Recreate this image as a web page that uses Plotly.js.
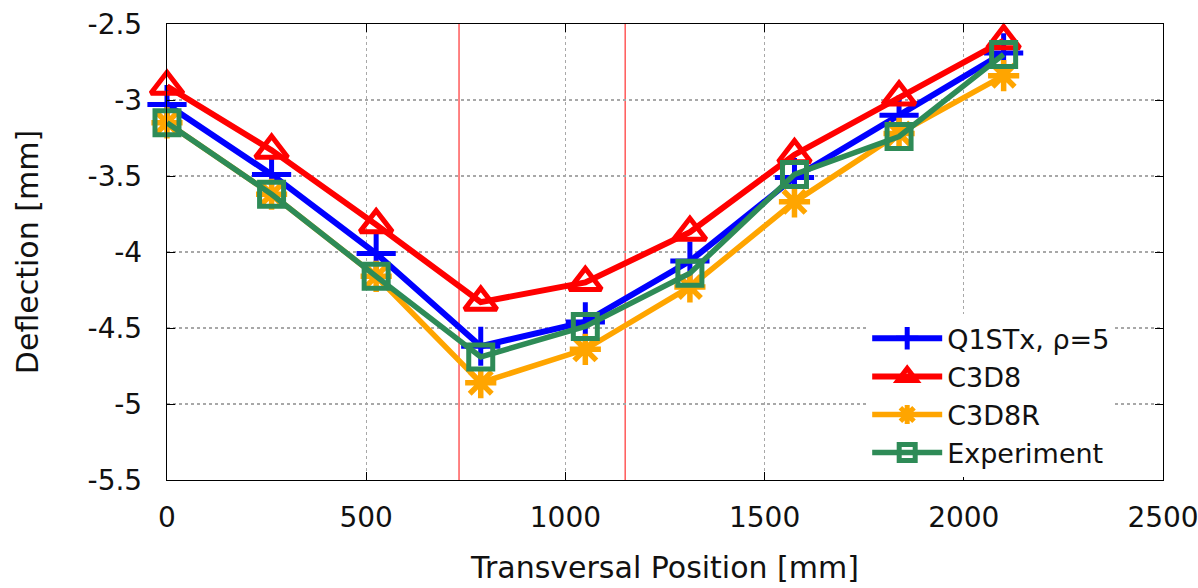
<!DOCTYPE html>
<html>
<head>
<meta charset="utf-8">
<script src="https://cdn.plot.ly/plotly-3.0.1.min.js"></script>
<style>html,body{margin:0;padding:0;background:#fff;}#chart{width:1198px;height:588px;}</style>
</head>
<body>
<div id="chart"></div>
<script>
// Data
const positions = [0, 262.5, 525, 787.5, 1050, 1312.5, 1575, 1837.5, 2100];
const q1stx     = [-3.03, -3.49, -4.01, -4.62, -4.46, -4.06, -3.51, -3.10, -2.69];
const c3d8      = [-2.91, -3.33, -3.82, -4.33, -4.20, -3.87, -3.36, -2.98, -2.61];
const c3d8r     = [-3.15, -3.62, -4.16, -4.86, -4.64, -4.23, -3.67, -3.22, -2.84];
const experiment= [-3.15, -3.62, -4.16, -4.69, -4.49, -4.14, -3.49, -3.24, -2.70];
const seriesNames = ['Q1STx, \u03c1=5', 'C3D8', 'C3D8R', 'Experiment'];
const markerLines = [733, 1150];
const xTicks = [0, 500, 1000, 1500, 2000, 2500];
const yTicks = [-5.5, -5, -4.5, -4, -3.5, -3, -2.5];
const yTickText = ['-5.5', '-5', '-4.5', '-4', '-3.5', '-3', '-2.5'];

const FONT = 'DejaVu Sans, sans-serif';

function mk(y, name, color, symbol, size, lw, mlw) {
  return {
    x: positions, y: y, name: name, type: 'scatter', mode: 'lines+markers',
    line: {color: color, width: lw},
    marker: {symbol: symbol, size: size, color: color, line: {color: color, width: mlw}},
    cliponaxis: false
  };
}

const traces = [
  mk(q1stx, seriesNames[0], '#0000ff', 'cross-thin-open', 28, 6, 5),
  mk(c3d8, seriesNames[1], '#ff0000', 'triangle-up-open', 28, 6, 5),
  mk(c3d8r, seriesNames[2], '#ffa500', 'asterisk-open', 26, 5.5, 5.5),
  mk(experiment, seriesNames[3], '#2e8b57', 'square-open', 24, 5.5, 5)
];

const shapes = markerLines.map(v => ({
  type: 'line', xref: 'x', yref: 'paper', x0: v, x1: v, y0: 0, y1: 1,
  line: {color: '#ff3030', width: 1.2}, layer: 'below'
}));

const axisCommon = {
  showline: true, linecolor: '#000', linewidth: 1.2, mirror: 'ticks',
  ticks: 'inside', ticklen: 8, tickcolor: '#000', tickwidth: 1,
  showgrid: true, gridcolor: '#a8a8a8', griddash: 'dot', gridwidth: 1.2,
  zeroline: false, tickfont: {family: FONT, size: 28, color: '#111'},
  ticklabeloverflow: 'allow'
};

const layout = {
  width: 1198, height: 588,
  margin: {l: 167, r: 35, t: 24, b: 108},
  paper_bgcolor: '#fff', plot_bgcolor: '#fff',
  showlegend: true,
  legend: {
    x: 0.952, xanchor: 'right', y: 0.006, yanchor: 'bottom',
    bgcolor: '#fff', borderwidth: 0,
    font: {family: FONT, size: 27, color: '#111'},
    itemwidth: 70, tracegroupgap: 0
  },
  xaxis: Object.assign({}, axisCommon, {
    range: [0, 2500], tickvals: xTicks, ticktext: xTicks.map(String),
    ticklabelstandoff: 12,
    title: {text: 'Transversal Position [mm]', font: {family: FONT, size: 30, color: '#111'}, standoff: 24}
  }),
  yaxis: Object.assign({}, axisCommon, {
    range: [-5.5, -2.5], tickvals: yTicks, ticktext: yTickText,
    ticklabelstandoff: 18,
    title: {text: 'Deflection [mm]', font: {family: FONT, size: 30, color: '#111'}, standoff: 40}
  }),
  shapes: shapes
};

Plotly.newPlot('chart', traces, layout, {displayModeBar: false, staticPlot: true});
</script>
</body>
</html>
